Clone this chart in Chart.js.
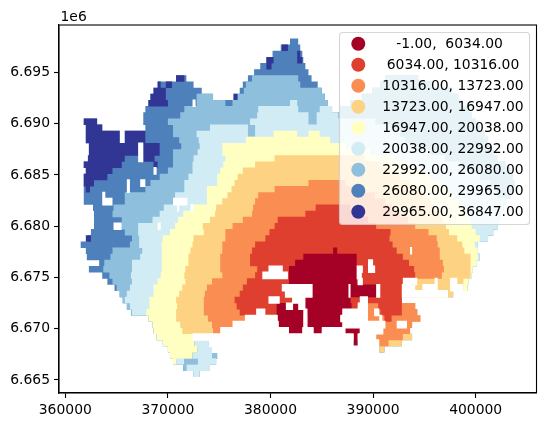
<!DOCTYPE html>
<html>
<head>
<meta charset="utf-8">
<script src="https://cdn.jsdelivr.net/npm/chart.js@4"></script>
<style>
html, body { margin: 0; padding: 0; background: #fff; }
#wrap { width: 546px; height: 428px; }
</style>
</head>
<body>
<div id="wrap"><canvas id="chart" width="546" height="428"></canvas></div>
<script>
// each row is [y, x0, x1, x0, x1, ...] in km, one row at a time
const under_6034 = [
  [6677.6,386.1,386.5],[6677.0,383.2,388.4],[6676.4,382.4,388.4],[6675.8,381.8,388.4],[6675.2,381.8,388.4],
  [6674.6,381.8,388.4],[6674.0,384.1,390.3],[6673.4,384.1,390.3],[6672.8,383.4,387.8],
  [6672.2,380.6,381.5,382.2,382.7,383.4,387.9],[6671.6,380.6,383.2,383.6,387.0],[6671.0,380.7,383.2,383.6,386.8],
  [6670.4,380.8,383.2,383.6,387.0],[6669.8,381.8,383.1,384.2,385.0,387.3,388.7],[6669.2,388.1,388.5],[6668.6,388.1,388.5]
];
const under_10316 = [
  [6681.8,384.4,387.8],[6681.2,383.4,388.7],[6680.6,380.7,389.5],[6680.0,380.4,390.3],[6679.4,379.9,391.7],
  [6678.8,379.5,391.6],[6678.2,378.5,391.9],[6677.6,378.2,392.3],[6677.0,378.0,392.9],[6676.4,378.0,393.5],
  [6675.8,378.7,394.0],[6675.2,378.5,394.1],[6674.6,377.7,392.9],[6674.0,377.3,392.8],[6673.4,377.0,392.8],
  [6672.8,376.5,392.8],[6672.2,376.7,388.5,390.5,392.8],[6671.6,377.0,387.0,390.7,392.8],[6671.0,391.1,391.8]
];
const under_13723 = [
  [6684.2,383.7,387.3],[6683.6,380.4,389.2],[6683.0,378.8,390.2],[6682.4,378.5,391.2],[6681.8,378.3,391.8],
  [6681.2,378.2,392.6],[6680.6,377.3,393.4],[6680.0,376.3,394.1],[6679.4,375.6,395.4],[6678.8,375.6,396.2],
  [6678.2,375.3,396.3],[6677.6,375.3,396.5],[6677.0,375.1,396.5],[6676.4,375.1,396.8],[6675.8,375.1,396.9],
  [6675.2,375.3,396.7],[6674.6,374.3,392.9],[6674.0,373.8,392.8],[6673.4,373.6,392.8],[6672.8,373.5,392.8],
  [6672.2,373.5,394.1],[6671.6,373.5,394.3],[6671.0,373.9,394.6],[6670.4,374.3,393.8],[6669.8,374.4,393.6],
  [6669.2,390.3,392.9],[6668.6,390.6,391.5]
];
const under_16947 = [
  [6686.6,380.4,389.2],[6686.0,378.5,390.7],[6685.4,377.3,391.7],[6684.8,376.8,392.6],[6684.2,376.5,393.6],
  [6683.6,376.2,394.4],[6683.0,375.8,395.1],[6682.4,375.3,395.6],[6681.8,374.7,396.0],[6681.2,374.6,396.5],
  [6680.6,374.1,396.8],[6680.0,373.4,397.1],[6679.4,373.5,397.4],[6678.8,372.5,398.2],[6678.2,372.4,398.7],
  [6677.6,372.2,398.9],[6677.0,372.0,399.5],[6676.4,372.0,399.5],[6675.8,371.7,399.5],[6675.2,371.6,399.5],
  [6674.6,371.7,398.8],[6674.0,371.4,398.8],[6673.4,371.1,397.8],[6672.8,370.8,392.8],[6672.2,370.9,394.1],
  [6671.6,370.8,394.3],[6671.0,370.8,394.6],[6670.4,371.2,393.8],[6669.8,371.4,393.6],[6669.2,390.3,393.8],
  [6668.6,390.6,392.8],[6668.0,390.6,391.1]
];
const under_20038 = [
  [6689.0,380.3,382.6,383.7,384.8],[6688.4,377.6,385.8],[6687.8,375.3,387.3],[6687.2,375.3,389.7],[6686.6,375.6,392.1],
  [6686.0,375.4,393.6],[6685.4,375.1,394.6],[6684.8,374.8,395.6],[6684.2,374.8,396.5],[6683.6,373.8,397.2],
  [6683.0,373.8,397.8],[6682.4,373.8,398.3],[6681.8,372.5,398.8],[6681.2,371.5,399.1],[6680.6,371.0,399.5],
  [6680.0,370.7,399.6],[6679.4,370.2,400.0],[6678.8,369.5,400.4],[6678.2,369.4,399.9],[6677.6,369.4,400.2],
  [6677.0,369.4,400.2],[6676.4,369.4,400.1],[6675.8,369.4,399.7],[6675.2,369.3,399.6],[6674.6,369.0,399.3],
  [6674.0,368.6,399.2],[6673.4,368.6,397.8],[6672.8,368.2,392.8],[6672.2,368.2,394.1],[6671.6,367.9,394.3],
  [6671.0,368.1,394.6],[6670.4,368.5,393.8],[6669.8,368.6,393.6],[6669.2,368.9,393.8],[6668.6,369.5,372.6],
  [6668.0,370.0,372.9],[6667.4,370.2,372.4],[6666.8,370.5,370.8]
];
const under_22992 = [
  [6692.0,381.9,382.6],[6691.4,378.8,382.7,384.8,386.0],[6690.8,378.7,383.7,384.5,386.6],[6690.2,378.0,383.7,384.5,390.2],
  [6689.6,374.1,377.8,378.5,391.7],[6689.0,372.8,377.8,378.5,392.6],[6688.4,373.0,393.1],[6687.8,373.1,394.1],
  [6687.2,372.9,395.6],[6686.6,372.5,397.0],[6686.0,372.4,398.5],[6685.4,372.4,399.5],[6684.8,372.0,400.4],
  [6684.2,371.6,401.4],[6683.6,371.6,401.9],[6683.0,370.7,402.1],[6682.4,370.5,402.9],[6681.8,369.6,402.7],
  [6681.2,369.2,402.4],[6680.6,368.5,402.2],[6680.0,367.1,402.1],[6679.4,367.1,401.7],[6678.8,367.2,401.2],
  [6678.2,367.2,400.2],[6677.6,367.5,400.2],[6677.0,367.3,400.4],[6676.4,366.5,400.1],[6675.8,366.5,399.7],
  [6675.2,366.4,399.6],[6674.6,366.5,399.3],[6674.0,366.3,399.2],[6673.4,366.0,397.8],[6672.8,365.8,392.8],
  [6672.2,366.3,394.1],[6671.6,366.5,394.3],[6668.6,372.6,374.0],[6668.0,372.9,374.3],[6667.4,372.4,374.3],
  [6666.8,370.8,371.6,372.9,374.7],[6666.2,371.8,374.1],[6665.6,372.5,373.1]
];
const under_26080 = [
  [6694.4,378.2,382.7,391.2,394.4],[6693.8,377.6,382.9,390.7,395.7],[6693.2,377.4,385.0,389.9,397.7],
  [6692.6,372.8,374.4,376.8,385.3,388.9,398.3],[6692.0,372.8,375.6,376.3,385.6,387.8,398.7],[6691.4,371.6,386.0,386.8,399.3],
  [6690.8,371.2,399.6],[6690.2,370.0,400.0],[6689.6,370.5,400.4],[6689.0,370.5,400.9],[6688.4,371.1,401.2],
  [6687.8,371.3,401.5],[6687.2,370.5,401.8],[6686.6,370.5,402.1],[6686.0,370.5,402.9],[6685.4,370.0,403.4],
  [6684.8,369.2,403.6],[6684.2,368.3,403.8],[6683.6,367.8,403.6],[6683.0,365.8,403.4],[6682.4,365.8,402.9],
  [6681.8,364.7,402.7],[6681.2,364.6,402.4],[6680.6,365.5,402.2],[6680.0,365.5,402.1],[6679.4,365.8,401.7],
  [6678.8,366.5,401.2],[6678.2,366.3,400.2],[6677.6,364.6,400.2],[6677.0,364.4,400.4],[6676.4,363.8,400.1],
  [6675.8,363.7,399.7],[6675.2,364.3,399.6],[6674.6,364.6,399.3],[6674.0,365.0,399.2],[6673.4,365.3,397.8],
  [6672.8,365.6,392.8],[6672.2,366.0,394.1],[6671.6,366.4,394.3],[6667.4,374.3,374.8],[6666.8,371.6,372.9],[6666.2,371.5,371.8]
];
const under_29965 = [
  [6698.0,381.9,382.7],[6697.4,381.0,382.9],[6696.8,380.2,383.1],[6696.2,379.6,383.2],[6695.6,379.0,383.4],
  [6695.0,378.4,383.7],[6694.4,370.8,371.8,377.8,384.0,391.2,394.4],[6693.8,369.0,372.5,377.3,384.6,390.7,395.7],
  [6693.2,368.6,373.3,377.0,385.0,389.9,397.7],[6692.6,368.3,374.4,376.4,385.3,388.9,398.3],[6692.0,368.1,385.6,387.8,398.7],
  [6691.4,367.8,386.0,386.8,399.3],[6690.8,367.6,399.6],[6690.2,361.8,363.1,367.6,400.0],[6689.6,362.0,363.6,367.8,400.4],
  [6689.0,362.0,365.3,365.8,400.9],[6688.4,362.0,365.3,365.8,401.2],[6687.8,362.3,401.5],[6687.2,362.3,401.8],
  [6686.6,362.3,402.1],[6686.0,361.8,402.9],[6685.4,362.0,403.4],[6684.8,361.8,403.6],[6684.2,361.8,403.8],
  [6683.6,361.8,403.6],[6683.0,361.8,403.4],[6682.4,361.8,402.9],[6681.8,362.7,402.7],[6681.2,362.8,402.4],
  [6680.6,362.8,402.2],[6680.0,362.8,402.1],[6679.4,362.5,401.7],[6678.8,362.2,401.2],[6678.2,361.5,400.2],
  [6677.6,362.0,400.2],[6677.0,362.1,400.4],[6676.4,363.3,400.1],[6675.8,362.3,399.7],[6675.2,363.6,399.6],
  [6674.6,364.1,399.3],[6674.0,364.8,399.2],[6673.4,365.3,397.8],[6672.8,365.6,392.8],[6672.2,366.0,394.1],
  [6671.6,366.4,394.3],[6671.0,368.1,394.6],[6670.4,368.5,393.8],[6669.8,368.6,393.6],[6669.2,368.9,393.8],
  [6668.6,369.5,392.8],[6668.0,370.0,391.1],[6667.4,370.2,374.8],[6666.8,370.5,374.7],[6666.2,371.5,374.1],[6665.6,372.5,373.1]
];
const under_36847 = [
  [6697.4,381.1,381.7],[6696.8,382.6,382.9],[6696.2,379.6,380.3,382.6,383.1],[6695.6,379.6,380.1],[6694.4,370.8,371.6],
  [6693.8,369.0,369.3,369.8,370.4],[6693.2,368.6,369.8],[6692.6,368.3,369.8,376.4,376.8],[6692.0,368.1,370.0],
  [6690.2,361.8,363.1],[6689.6,362.0,363.6],[6689.0,362.0,365.3,365.8,367.8],[6688.4,362.0,365.3,365.8,367.8],
  [6687.8,362.3,367.1,367.6,369.2],[6687.2,362.3,367.1,367.6,369.2],[6686.6,362.2,365.8,367.6,368.7],
  [6686.0,361.8,365.5,368.6,369.0],[6685.4,362.0,364.6],[6684.8,361.8,364.1],[6684.2,361.8,362.8],[6683.6,362.0,362.4],
  [6678.8,362.0,362.5]
];
// cells with no value inside the outline
const noData = [
  [6692.0,372.4,372.7],[6687.8,367.1,367.6],[6687.2,367.1,367.6],[6686.6,367.1,367.6],[6685.4,368.6,368.9],
  [6684.2,366.0,366.3,367.3,367.8],[6683.6,366.0,366.3],[6683.0,363.6,363.9],[6682.4,363.6,364.6,370.5,371.9],
  [6681.8,370.9,371.1,372.2,372.5],[6680.0,364.7,365.5,369.0,369.3],[6677.6,393.6,393.8],[6676.4,389.5,390.0],
  [6675.8,379.8,381.2,388.4,389.0,389.5,390.2],[6675.2,379.2,381.7,388.4,388.9],
  [6674.6,388.5,389.0,392.9,394.3,396.0,396.3,397.5,398.2],
  [6674.0,381.1,384.1,387.6,387.8,390.3,390.7,392.8,394.1,394.8,396.3,397.5,398.8],
  [6673.4,381.4,384.1,387.6,387.8,390.3,390.7,392.8,397.3],
  [6672.8,379.8,380.9,382.1,383.4,388.7,389.5],
  [6672.2,381.5,382.2,382.7,383.4,388.5,389.5],
  [6671.6,378.6,379.5,383.2,383.6,387.0,389.5,390.1,390.6],
  [6671.0,377.5,380.7,383.2,383.6,386.8,389.5,390.6,390.9],
  [6670.4,376.3,380.8,383.2,383.6,387.0,391.2,392.3,393.3],
  [6669.8,375.1,381.8,383.1,384.2,385.0,387.3,388.7,391.0],
  [6669.2,372.4,388.1,388.5,390.3],[6668.6,374.0,388.1,388.5,390.6],[6668.0,374.3,390.6]
];

const classLabels = ['-1.00,  6034.00', '6034.00, 10316.00', '10316.00, 13723.00', '13723.00, 16947.00',
  '16947.00, 20038.00', '20038.00, 22992.00', '22992.00, 26080.00', '26080.00, 29965.00', '29965.00, 36847.00'];
const classColors = ['#a50026', '#de3f2e', '#fa8e52', '#fed283', '#feffc0', '#d1ecf4', '#8ec0dd', '#4e81bc', '#313695'];
const xTicks = [360000, 370000, 380000, 390000, 400000];
const yTicks = [6665000, 6670000, 6675000, 6680000, 6685000, 6690000, 6695000];

const FONT = '"DejaVu Sans"';

// turn rows into a broken line, NaN between the spans
function toPoints(rows) {
  const pts = [];
  rows.forEach(row => {
    for (let i = 1; i < row.length; i += 2) {
      pts.push({x: row[i] * 1000, y: row[0] * 1000});
      pts.push({x: row[i + 1] * 1000, y: row[0] * 1000});
      pts.push({x: NaN, y: NaN});
    }
  });
  return pts;
}

function band(label, rows, color, width) {
  return {
    label: label,
    data: toPoints(rows),
    borderColor: color,
    backgroundColor: color,
    borderWidth: width,
    borderCapStyle: 'butt',
    showLine: true,
    spanGaps: false,
    pointRadius: 0,
    pointHoverRadius: 0,
    tension: 0
  };
}

// first dataset is painted last; every band also covers the lower classes' area
const datasets = [
  band('no data', noData, '#ffffff', 7.6),
  band(classLabels[0], under_6034, classColors[0], 6.5),
  band(classLabels[1], under_10316, classColors[1], 6.5),
  band(classLabels[2], under_13723, classColors[2], 6.5),
  band(classLabels[3], under_16947, classColors[3], 6.5),
  band(classLabels[4], under_20038, classColors[4], 6.5),
  band(classLabels[5], under_22992, classColors[5], 6.5),
  band(classLabels[6], under_26080, classColors[6], 6.5),
  band(classLabels[8], under_36847, classColors[8], 6.5),
  band(classLabels[7], under_29965, classColors[7], 6.5)
];

const framePlugin = {
  id: 'frame',
  afterDraw(chart) {
    const ctx = chart.ctx;
    const a = chart.chartArea;
    ctx.save();
    ctx.strokeStyle = '#000';
    ctx.lineWidth = 1.1;
    ctx.strokeRect(a.left, a.top, a.right - a.left, a.bottom - a.top);
    ctx.fillStyle = '#000';
    ctx.font = '13.9px ' + FONT;
    ctx.textAlign = 'left';
    ctx.textBaseline = 'alphabetic';
    ctx.fillText('1e6', a.left + 1.5, 21);

    // legend box
    ctx.beginPath();
    ctx.roundRect(339.5, 32.5, 190, 192, 3);
    ctx.fillStyle = 'rgba(255,255,255,0.8)';
    ctx.fill();
    ctx.strokeStyle = 'rgba(204,204,204,0.8)';
    ctx.lineWidth = 1.1;
    ctx.stroke();
    ctx.textAlign = 'center';
    ctx.textBaseline = 'middle';
    classLabels.forEach((t, i) => {
      const y = 43.7 + 21 * i;
      ctx.beginPath();
      ctx.arc(358.3, y, 7, 0, Math.PI * 2);
      ctx.fillStyle = classColors[i];
      ctx.fill();
      ctx.fillStyle = '#000';
      ctx.fillText(t, i === 0 ? 449.5 : 453, y + 0.5);
    });
    ctx.restore();
  }
};

new Chart(document.getElementById('chart').getContext('2d'), {
  type: 'scatter',
  data: {datasets: datasets},
  plugins: [framePlugin],
  options: {
    responsive: false,
    animation: false,
    events: [],
    layout: {padding: {top: 25, right: 9.5, left: 0, bottom: 0}},
    plugins: {legend: {display: false}, tooltip: {enabled: false}},
    scales: {
      x: {
        type: 'linear',
        min: 359386,
        max: 405926,
        afterBuildTicks: s => { s.ticks = xTicks.map(v => ({value: v})); },
        afterFit: s => { s.height = 35; },
        grid: {drawOnChartArea: false, tickLength: 5, tickColor: '#000', tickWidth: 1.1},
        border: {color: '#000', width: 1.1},
        ticks: {color: '#000', font: {family: FONT, size: 13.9}, maxRotation: 0, autoSkip: false, padding: 4,
          callback: v => String(v)}
      },
      y: {
        type: 'linear',
        min: 6663730,
        max: 6699630,
        afterBuildTicks: s => { s.ticks = yTicks.map(v => ({value: v})); },
        afterFit: s => { s.width = 59; },
        grid: {drawOnChartArea: false, tickLength: 5, tickColor: '#000', tickWidth: 1.1},
        border: {color: '#000', width: 1.1},
        ticks: {color: '#000', font: {family: FONT, size: 13.9}, autoSkip: false, padding: 4,
          callback: v => (v / 1e6).toFixed(3)}
      }
    }
  }
});
</script>
</body>
</html>
